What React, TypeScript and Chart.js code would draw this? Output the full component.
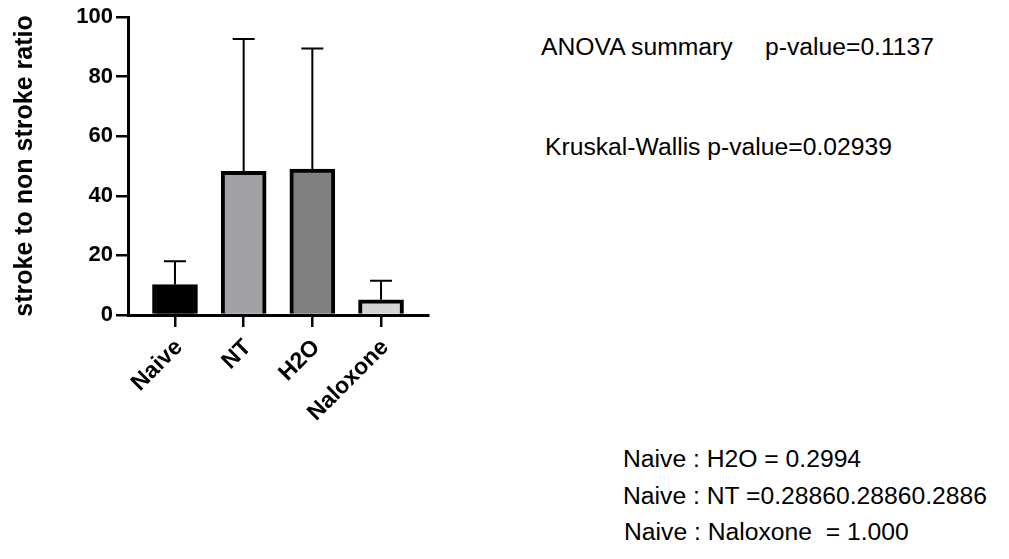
import React, { useEffect, useRef } from 'react';
import { Chart, registerables } from 'chart.js';

Chart.register(...registerables);

const categories = ['Naive', 'NT', 'H2O', 'Naloxone'];
const means = [10.2, 48.2, 49.0, 5.1];
const sdUpper = [7.8, 44.4, 40.4, 6.4];
const barColors = ['#000000', '#a2a2a6', '#808080', '#d3d3d3'];
const yTickValues = [0, 20, 40, 60, 80, 100];
const yTitle = 'stroke to non stroke ratio';
const anovaLabel = 'ANOVA summary';
const anovaP = 'p-value=0.1137';
const kwText = 'Kruskal-Wallis p-value=0.02939';
const pairTexts = ['Naive : H2O = 0.2994', 'Naive : NT =0.28860.28860.2886', 'Naive : Naloxone  = 1.000'];

const FONT = '"Liberation Sans", Arial, sans-serif';

const errorBars = {
  id: 'errorBars',
  afterDatasetsDraw(chart: any) {
    const meta = chart.getDatasetMeta(0);
    const y = chart.scales.y;
    const ctx = chart.ctx;
    ctx.save();
    ctx.strokeStyle = '#000';
    ctx.lineWidth = 2;
    meta.data.forEach((bar: any, i: number) => {
      const top = y.getPixelForValue(means[i] + sdUpper[i]);
      ctx.beginPath();
      ctx.moveTo(bar.x, bar.y);
      ctx.lineTo(bar.x, top);
      ctx.moveTo(bar.x - 11, top);
      ctx.lineTo(bar.x + 11, top);
      ctx.stroke();
    });
    ctx.restore();
  },
};

export default function App() {
  const ref = useRef<HTMLCanvasElement>(null);
  useEffect(() => {
    if (!ref.current) return;
    const chart = new Chart(ref.current, {
      type: 'bar',
      data: {
        datasets: [
          {
            data: means.map((v, i) => ({ x: i, y: v })),
            backgroundColor: barColors,
            borderColor: '#000',
            borderWidth: 4,
            barThickness: 45,
          },
        ],
      },
      options: {
        responsive: false,
        animation: false,
        layout: { padding: { top: 17, left: 0, right: 72, bottom: 0 } },
        plugins: { legend: { display: false }, tooltip: { enabled: false } },
        scales: {
          x: {
            type: 'linear',
            offset: false,
            min: -0.684,
            max: 3.684,
            afterBuildTicks: (s: any) => {
              s.ticks = categories.map((_, i) => ({ value: i }));
            },
            afterFit: (s: any) => {
              s.height = 115;
            },
            ticks: {
              autoSkip: false,
              minRotation: 45,
              maxRotation: 45,
              padding: 7,
              labelOffset: 4,
              color: '#000',
              font: { family: FONT, size: 23, weight: 'bold' },
              callback: (v: any) => categories[v] ?? '',
            },
            grid: {
              offset: false,
              drawOnChartArea: false,
              tickLength: 12,
              color: '#000',
              lineWidth: 2.5,
            },
            border: { color: '#000', width: 3 },
          },
          y: {
            min: 0,
            max: 100,
            afterBuildTicks: (s: any) => {
              s.ticks = yTickValues.map((v) => ({ value: v }));
            },
            afterFit: (s: any) => {
              s.width = 128;
            },
            ticks: {
              padding: 3,
              color: '#000',
              font: { family: FONT, size: 22, weight: 'bold' },
            },
            grid: {
              drawOnChartArea: false,
              tickLength: 12,
              color: '#000',
              lineWidth: 2.5,
            },
            border: { color: '#000', width: 3 },
            title: {
              display: true,
              text: yTitle,
              color: '#000',
              padding: { top: 10, bottom: 0 },
              font: { family: FONT, size: 25, weight: 'bold' },
            },
          },
        },
      },
      plugins: [errorBars],
    });
    return () => chart.destroy();
  }, []);

  const textStyle: React.CSSProperties = {
    position: 'absolute',
    fontFamily: FONT,
    fontSize: 24.7,
    lineHeight: '24px',
    whiteSpace: 'pre',
    color: '#000',
  };

  return (
    <div style={{ position: 'absolute', left: 0, top: 0, width: 1009, height: 559, background: '#fff', overflow: 'hidden' }}>
      <canvas ref={ref} width={500} height={430} style={{ position: 'absolute', left: 0, top: 0 }} />
      <div style={{ ...textStyle, left: 541, top: 35 }}>{anovaLabel}</div>
      <div style={{ ...textStyle, left: 765, top: 35 }}>{anovaP}</div>
      <div style={{ ...textStyle, left: 545, top: 135 }}>{kwText}</div>
      <div style={{ ...textStyle, left: 623, top: 447 }}>{pairTexts[0]}</div>
      <div style={{ ...textStyle, left: 623, top: 484 }}>{pairTexts[1]}</div>
      <div style={{ ...textStyle, left: 624, top: 520 }}>{pairTexts[2]}</div>
    </div>
  );
}
